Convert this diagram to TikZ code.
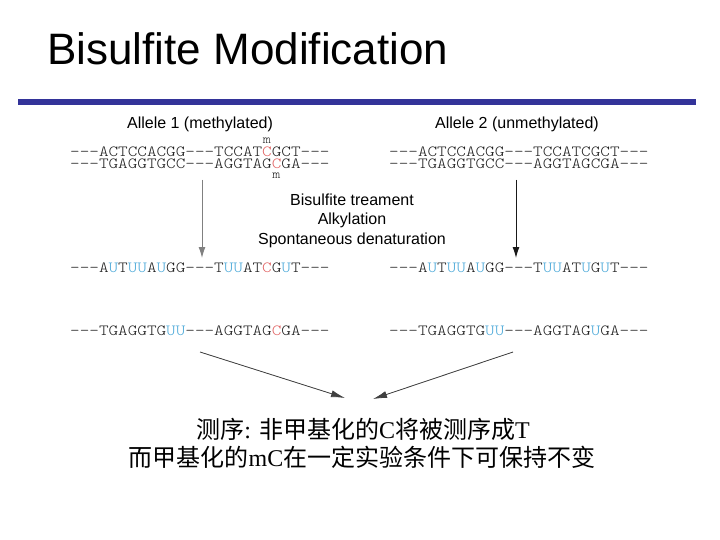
\documentclass[tikz,border=0pt]{standalone}
\usepackage{fontspec}
\setmainfont{Liberation Sans}
\newfontfamily\seqf[FakeStretch=1.18]{Latin Modern Mono Light}
\newfontfamily\cjk{Noto Sans CJK SC}
\newfontfamily\tms{Liberation Serif}
\usetikzlibrary{arrows.meta}
\definecolor{mred}{HTML}{E06060}
\definecolor{ublue}{HTML}{4AA8D8}
\definecolor{barblue}{HTML}{333399}
\definecolor{seqgray}{HTML}{202020}
\newcommand\Rc[1]{\textcolor{mred}{#1}}
\newcommand\Bu[1]{\textcolor{ublue}{#1}}
\begin{document}
\begin{tikzpicture}[x=1pt,y=-1pt,
  title/.style={anchor=base west,inner sep=0pt,font=\fontsize{44}{44}\selectfont},
  lbl/.style={anchor=base,inner sep=0pt,font=\fontsize{16}{16}\selectfont},
  seq/.style={anchor=base west,inner sep=0pt,text=seqgray,font=\seqf\fontsize{15.5}{15.5}\selectfont},
  mlab/.style={anchor=base,inner sep=0pt,text=seqgray,font=\seqf\fontsize{13}{13}\selectfont},
  cn/.style={anchor=base,inner sep=0pt,font=\fontsize{24}{24}\selectfont},
  varrow/.style={line width=1pt,-{Latex[length=11pt,width=7pt]}},
  darrow/.style={line width=0.8pt,draw=black!75,fill=black!75,-{Latex[length=14pt,width=7pt]}}]
\useasboundingbox (0,0) rectangle (720,540);
\node[title] (ttl) at (47,65) {Bisulfite Modification};
\fill[barblue] (18,99) rectangle (696,105);
% allele labels
\node[lbl] (al1) at (200,129) {Allele 1 (methylated)};
\node[lbl] (al2) at (517,129) {Allele 2 (unmethylated)};
% original strands
\node[seq] (s1a) at (70,156.5) {---ACTCCACGG---TCCAT\Rc{C}GCT---};
\node[seq] (s1b) at (70,169) {---TGAGGTGCC---AGGTAG\Rc{C}GA---};
\node[mlab] (m1) at (266.8,144) {m};
\node[mlab] (m2) at (276.4,179) {m};
\node[seq] (s2a) at (389,156.5) {---ACTCCACGG---TCCATCGCT---};
\node[seq] (s2b) at (389,169) {---TGAGGTGCC---AGGTAGCGA---};
% treatment text
\node[lbl] (t1) at (352,206) {Bisulfite treament};
\node[lbl] (t2) at (352,225) {Alkylation};
\node[lbl] (t3) at (352,244) {Spontaneous denaturation};
% vertical arrows
\coordinate (v1s) at (202,180);
\coordinate (v1e) at (202,258);
\coordinate (v2s) at (516,180);
\coordinate (v2e) at (516,258);
\draw[varrow,draw=black!50,fill=black!50] (v1s) -- (v1e);
\draw[varrow,draw=black!90,fill=black!90] (v2s) -- (v2e);
% converted strands
\node[seq] (c1a) at (70,272) {---A\Bu{U}T\Bu{UU}A\Bu{U}GG---T\Bu{UU}AT\Rc{C}G\Bu{U}T---};
\node[seq] (c2a) at (389,272) {---A\Bu{U}T\Bu{UU}A\Bu{U}GG---T\Bu{UU}AT\Bu{U}G\Bu{U}T---};
\node[seq] (c1b) at (70,335.5) {---TGAGGTG\Bu{UU}---AGGTAG\Rc{C}GA---};
\node[seq] (c2b) at (389,335.5) {---TGAGGTG\Bu{UU}---AGGTAG\Bu{U}GA---};
% converging arrows
\coordinate (d1s) at (200,352);
\coordinate (d1e) at (345,398);
\coordinate (d2s) at (513,352);
\coordinate (d2e) at (373,399);
\draw[darrow] (d1s) -- (d1e);
\draw[darrow] (d2s) -- (d2e);
% Chinese text
\node[cn] (z1) at (363,438) {{\cjk 测序}{\tms: }{\cjk 非甲基化的}{\tms C}{\cjk 将被测序成}{\tms T}};
\node[cn] (z2) at (362,466) {{\cjk 而甲基化的}{\tms mC}{\cjk 在一定实验条件下可保持不变}};
\end{tikzpicture}
\end{document}
